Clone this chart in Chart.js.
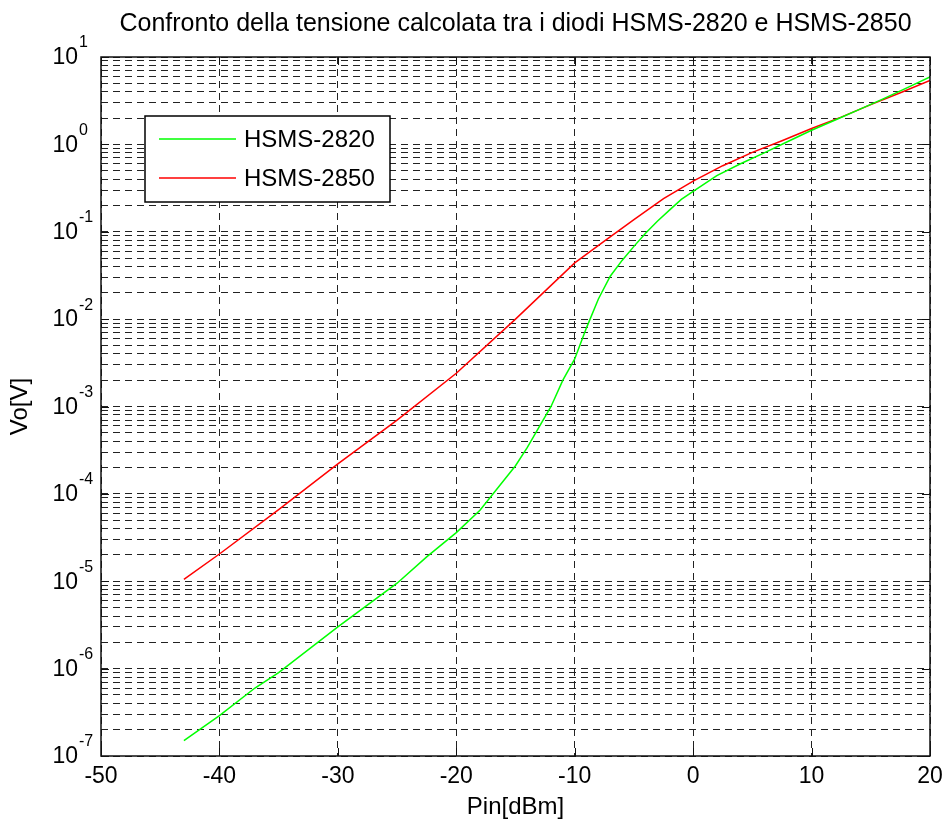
<!DOCTYPE html>
<html>
<head>
<meta charset="utf-8">
<script src="https://cdn.jsdelivr.net/npm/chart.js@4.4.1/dist/chart.umd.min.js"></script>
<style>
  html, body { margin: 0; padding: 0; background: #fff; }
</style>
</head>
<body>
<canvas id="chart" width="944" height="828"></canvas>
<script>
var titleText = "Confronto della tensione calcolata tra i diodi HSMS-2820 e HSMS-2850";
var xTitle = "Pin[dBm]";
var yTitle = "Vo[V]";
var seriesNames = ["HSMS-2820", "HSMS-2850"];
var seriesColors = ["#00ff00", "#ff0000"];

// HSMS-2820 (green)
var pin2820 = [-43, -40, -37, -35, -30, -25, -22.5, -20, -18, -15, -14, -12, -11, -10, -9, -8, -7, -6, -5, -4, -3, -2, -1, 0, 2, 4, 6, 8, 10, 12, 14, 16, 18, 20];
var vo2820 = [1.5e-7, 2.9e-7, 6.0e-7, 9.0e-7, 3.0e-6, 9.5e-6, 1.9e-5, 3.6e-5, 6.5e-5, 2.1e-4, 3.4e-4, 1.0e-3, 2.0e-3, 3.5e-3, 8.0e-3, 0.017, 0.031, 0.047, 0.068, 0.097, 0.133, 0.177, 0.235, 0.29, 0.44, 0.6, 0.8, 1.08, 1.45, 1.9, 2.5, 3.3, 4.4, 5.9];

// HSMS-2850 (red)
var pin2850 = [-43, -40, -35, -30, -25, -20, -15, -10, -7.5, -5, -2.5, 0, 2.5, 5, 7.5, 10, 12.5, 15, 17.5, 20];
var vo2850 = [1.05e-5, 2.05e-5, 6.6e-5, 2.2e-4, 7.0e-4, 2.4e-3, 1.0e-2, 0.044, 0.078, 0.138, 0.24, 0.38, 0.57, 0.81, 1.1, 1.52, 2.05, 2.85, 3.9, 5.4];

var xTicks = [-50, -40, -30, -20, -10, 0, 10, 20];
var yExponents = [-7, -6, -5, -4, -3, -2, -1, 0, 1];

var FONT = "'Liberation Sans', Arial, Helvetica, sans-serif";

function toPoints(xs, ys) {
    var pts = [];
    for (var i = 0; i < xs.length; i++) pts.push({x: xs[i], y: ys[i]});
    return pts;
}

// 1..9 x 10^k gridlines for the log axis
function logTicks() {
    var t = [];
    for (var i = 0; i < yExponents.length - 1; i++) {
        for (var m = 1; m <= 9; m++) t.push({value: m * Math.pow(10, yExponents[i])});
    }
    t.push({value: Math.pow(10, yExponents[yExponents.length - 1])});
    return t;
}

var matlabAxes = {
    id: 'matlabAxes',
    afterDraw: function (chart) {
        var ctx = chart.ctx, a = chart.chartArea;
        var xs = chart.scales.x, ys = chart.scales.y;
        ctx.save();

        // box + tick marks
        ctx.strokeStyle = '#111';
        ctx.lineWidth = 1.5;
        ctx.strokeRect(a.left, a.top, a.right - a.left, a.bottom - a.top);
        ctx.beginPath();
        xTicks.forEach(function (v) {
            var px = Math.round(xs.getPixelForValue(v)) + 0.5;
            ctx.moveTo(px, a.bottom); ctx.lineTo(px, a.bottom - 8);
            ctx.moveTo(px, a.top); ctx.lineTo(px, a.top + 8);
        });
        yExponents.forEach(function (e) {
            var py = Math.round(ys.getPixelForValue(Math.pow(10, e))) + 0.5;
            ctx.moveTo(a.left, py); ctx.lineTo(a.left + 8, py);
            ctx.moveTo(a.right, py); ctx.lineTo(a.right - 8, py);
        });
        ctx.lineWidth = 1;
        ctx.stroke();

        // y tick labels 10^k
        ctx.fillStyle = '#000';
        ctx.textBaseline = 'middle';
        yExponents.forEach(function (e) {
            var py = ys.getPixelForValue(Math.pow(10, e));
            ctx.font = '23px ' + FONT;
            ctx.textAlign = 'right';
            ctx.fillText('10', a.left - 23, py + 1);
            ctx.font = '16px ' + FONT;
            ctx.textAlign = 'left';
            ctx.fillText(String(e), a.left - 22, py - 14);
        });

        // legend box
        var lx = a.left + 44, ly = a.top + 59, lw = 245, lh = 86;
        ctx.fillStyle = '#fff';
        ctx.fillRect(lx, ly, lw, lh);
        ctx.strokeStyle = '#000';
        ctx.lineWidth = 1.5;
        ctx.strokeRect(lx, ly, lw, lh);
        chart.data.datasets.forEach(function (ds, i) {
            var yy = ly + 23 + i * 39;
            ctx.strokeStyle = ds.borderColor;
            ctx.lineWidth = 1.5;
            ctx.beginPath();
            ctx.moveTo(lx + 14, yy); ctx.lineTo(lx + 91, yy);
            ctx.stroke();
            ctx.fillStyle = '#000';
            ctx.font = '24px ' + FONT;
            ctx.textAlign = 'left';
            ctx.fillText(ds.label, lx + 99, yy + 1);
        });
        ctx.restore();
    }
};

var gridDash = [7, 5];

new Chart(document.getElementById('chart').getContext('2d'), {
    type: 'line',
    data: {
        datasets: [{
            label: seriesNames[0],
            data: toPoints(pin2820, vo2820),
            borderColor: seriesColors[0],
            borderWidth: 1.5,
            pointRadius: 0,
            fill: false,
            tension: 0
        }, {
            label: seriesNames[1],
            data: toPoints(pin2850, vo2850),
            borderColor: seriesColors[1],
            borderWidth: 1.5,
            pointRadius: 0,
            fill: false,
            tension: 0
        }]
    },
    options: {
        responsive: false,
        animation: false,
        layout: { padding: { top: 0, right: 14, left: 0, bottom: 0 } },
        plugins: {
            legend: { display: false },
            tooltip: { enabled: false },
            title: {
                display: true,
                text: titleText,
                fullSize: false,
                color: '#000',
                font: { family: FONT, size: 25, weight: 'normal' },
                padding: { top: 9, bottom: 18 }
            }
        },
        scales: {
            x: {
                type: 'linear',
                min: -50,
                max: 20,
                afterBuildTicks: function (s) { s.ticks = xTicks.map(function (v) { return {value: v}; }); },
                afterFit: function (s) { s.height = 72; s.paddingLeft = 0; s.paddingRight = 0; },
                grid: { color: '#222', lineWidth: 1, drawTicks: false },
                border: { display: false, dash: gridDash },
                ticks: { color: '#000', font: { family: FONT, size: 23 }, padding: 7, maxRotation: 0, autoSkip: false },
                title: { display: true, text: xTitle, color: '#000', font: { family: FONT, size: 24 }, padding: 6 }
            },
            y: {
                type: 'logarithmic',
                min: 1e-7,
                max: 10,
                afterBuildTicks: function (s) { s.ticks = logTicks(); },
                afterFit: function (s) { s.width = 101; s.paddingTop = 0; s.paddingBottom = 0; },
                grid: { color: '#222', lineWidth: 1, drawTicks: false },
                border: { display: false, dash: gridDash },
                ticks: { display: false, autoSkip: false },
                title: { display: true, text: yTitle, color: '#000', font: { family: FONT, size: 24 }, padding: 6 }
            }
        }
    },
    plugins: [matlabAxes]
});
</script>
</body>
</html>
